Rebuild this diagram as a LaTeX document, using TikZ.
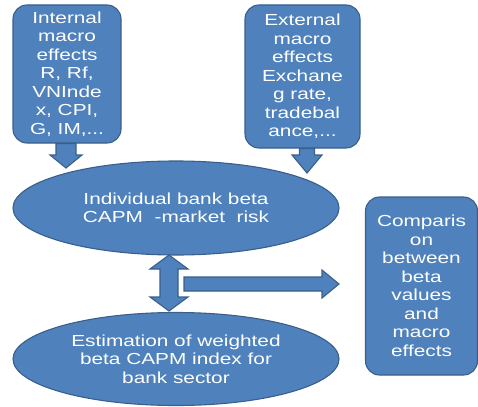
\documentclass[tikz,border=0pt]{standalone}
\usepackage{fontspec}
\setmainfont{Liberation Sans}[FakeStretch=1.3]
\usetikzlibrary{calc,shapes.geometric}
\definecolor{blkfill}{HTML}{4F81BD}
\definecolor{blkline}{HTML}{3A5F8B}
\tikzset{
  shapebase/.style={fill=blkfill, draw=blkline, line width=1.1pt},
  txt/.style={text=white, align=center, inner sep=0pt,
    font=\fontsize{16pt}{18.5pt}\selectfont},
  rbox/.style={shapebase, txt, rectangle, rounded corners=14pt},
  ebox/.style={shapebase, txt, ellipse},
  blkarrow/.style={shapebase, line join=miter},
}
% vertical block arrow downwards: #1 start, #2 tip, #3 shaft half, #4 head half, #5 head length
\newcommand\blkdown[5]{%
  \draw[blkarrow] let \p1=(#1), \p2=(#2) in
    (\x2-#3,\y1) -- (\x2+#3,\y1) -- (\x2+#3,\y2+#5) -- (\x2+#4,\y2+#5) --
    (\x2,\y2) -- (\x2-#4,\y2+#5) -- (\x2-#3,\y2+#5) -- cycle;}
% vertical double block arrow: #1 top tip, #2 bottom tip, #3 shaft half, #4 head half, #5 head length
\newcommand\blkdouble[5]{%
  \draw[blkarrow] let \p1=(#1), \p2=(#2) in
    (\x1,\y1) -- (\x1+#4,\y1-#5) -- (\x1+#3,\y1-#5) -- (\x1+#3,\y2+#5) --
    (\x1+#4,\y2+#5) -- (\x1,\y2) -- (\x1-#4,\y2+#5) -- (\x1-#3,\y2+#5) --
    (\x1-#3,\y1-#5) -- (\x1-#4,\y1-#5) -- cycle;}
% horizontal block arrow rightwards: #1 start, #2 tip, #3 shaft half, #4 head half, #5 head length
\newcommand\blkright[5]{%
  \draw[blkarrow] let \p1=(#1), \p2=(#2) in
    (\x1,\y2+#3) -- (\x2-#5,\y2+#3) -- (\x2-#5,\y2+#4) -- (\x2,\y2) --
    (\x2-#5,\y2-#4) -- (\x2-#5,\y2-#3) -- (\x1,\y2-#3) -- cycle;}
\begin{document}
\begin{tikzpicture}[x=1pt,y=-1pt]
\useasboundingbox (0,0) rectangle (478,406);

\node[rbox, minimum width=108pt, minimum height=138pt] (in1) at (67,74)
  {Internal\\macro\\effects\\R, Rf,\\VNInde\\x, CPI,\\G, IM,...};
\node[rbox, minimum width=115pt, minimum height=143pt] (in2) at (302.5,76.5)
  {External\\macro\\effects\\Exchane\\g rate,\\tradebal\\ance,...};

\node[ebox, minimum width=326pt, minimum height=94pt] (ell1) at (176,208)
  {Individual bank beta\\CAPM~ -market~ risk};
\node[ebox, minimum width=326pt, minimum height=93pt] (ell2) at (176,359)
  {Estimation of weighted\\beta CAPM index for\\bank sector};

\node[rbox, minimum width=112pt, minimum height=178pt] (cmp) at (421.5,286)
  {Comparis\\on\\between\\beta\\values\\and\\macro\\effects};

\coordinate (t1) at (66,168);
\coordinate (t2) at (307,173);
\coordinate (dt) at (169,255);
\coordinate (db) at (169,311);
\coordinate (hs) at (184,284);
\coordinate (ht) at (339,284);

\blkdown{in1.south}{t1}{10pt}{16pt}{13pt}
\blkdown{in2.south}{t2}{7.5pt}{15pt}{18pt}
\blkdouble{dt}{db}{9pt}{19pt}{14pt}
\blkright{hs}{ht}{7pt}{14pt}{17pt}
\end{tikzpicture}
\end{document}
